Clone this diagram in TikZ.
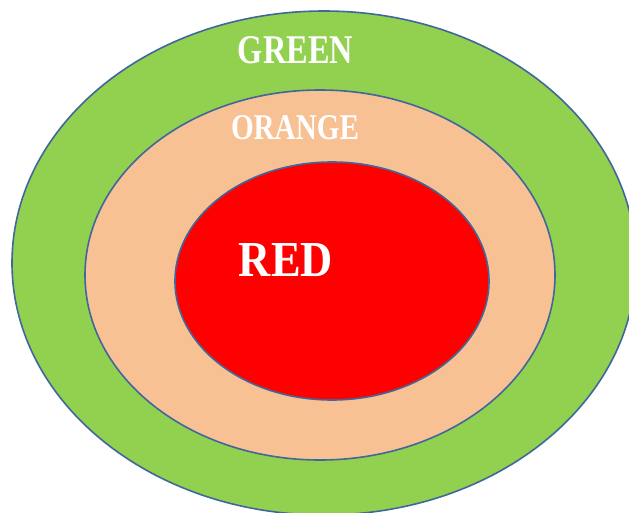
\documentclass[tikz,border=0pt]{standalone}
\usepackage{fontspec}
\setmainfont{Liberation Serif}
\usetikzlibrary{shapes.geometric}
\definecolor{ringgreen}{HTML}{92D050}
\definecolor{ringorange}{HTML}{F8C193}
\definecolor{ringred}{HTML}{FF0000}
\definecolor{ringline}{HTML}{41679A}
\tikzset{
  ring/.style={ellipse, draw=ringline, line width=1.6pt, inner sep=0pt},
  lbl/.style={text=white, inner sep=0pt, font=\bfseries}
}
\begin{document}
\begin{tikzpicture}[x=1pt,y=-1pt]
\useasboundingbox (0,0) rectangle (629,512);
\clip (0,0) rectangle (629,512);
\fill[white] (0,0) rectangle (629,512);
\node[ring, fill=ringgreen, minimum width=624pt, minimum height=504pt] (green) at (324,263) {};
\node[ring, fill=ringorange, minimum width=470pt, minimum height=370pt] (orange) at (320,275) {};
\node[ring, fill=ringred, minimum width=314pt, minimum height=238pt] (red) at (332,281) {};
\node[lbl] (greenT) at (295.5,50) {\resizebox{115pt}{27pt}{GREEN}};
\node[lbl] (orangeT) at (295,128) {\resizebox{128pt}{24pt}{ORANGE}};
\node[lbl] (redT) at (286,260) {\resizebox{94pt}{33pt}{RED}};
\end{tikzpicture}
\end{document}
